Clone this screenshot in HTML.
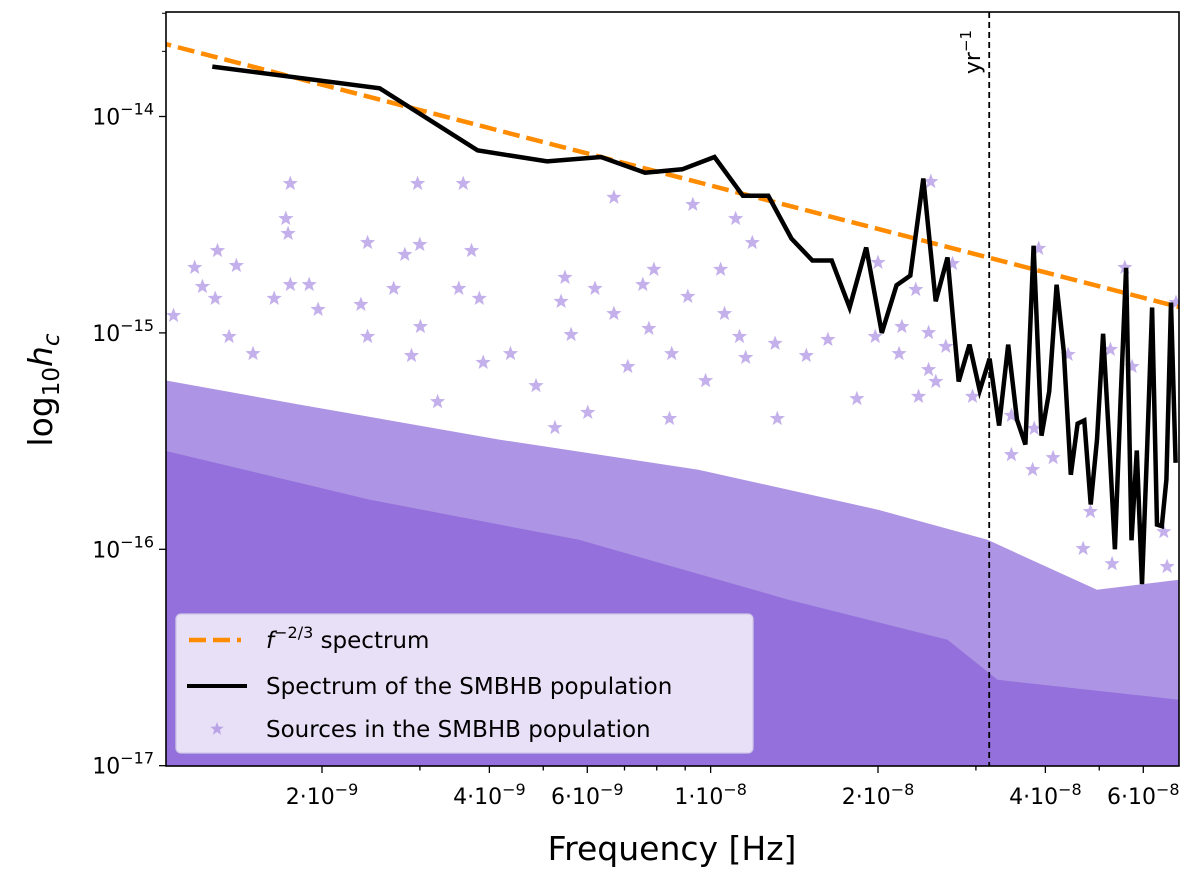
<!DOCTYPE html>
<html><head><meta charset="utf-8"><style>
html,body{margin:0;padding:0;background:#fff;}
svg{display:block;font-family:"DejaVu Sans","Liberation Sans",sans-serif;}
</style></head><body>
<svg id="chart" width="1200" height="879" viewBox="0 0 1200 879" xmlns="http://www.w3.org/2000/svg">
<defs><clipPath id="plotclip"><rect x="166" y="12" width="1013" height="754"/></clipPath></defs>
<rect x="0" y="0" width="1200" height="879" fill="#fff"/>
<g id="plot" clip-path="url(#plotclip)"></g>
<g id="axes"></g>
</svg>
<script>
// ---- data ----
const binIndex = [1,2,3,4,5,6,7,8,9,10,11,12,13,14,15,16,17,18,19,20,21,22,23,24,25,26,27,28,29,30,31,32,33,34,35,36,37,38,39,40,41,42,43,44,45,46,47,48,49,50,51,52,53,54];
const binWidthHz = 1.27e-9;
const spectrumH = [1.70e-14,1.35e-14,6.97e-15,6.2e-15,6.5e-15,5.5e-15,5.7e-15,6.5e-15,4.3e-15,4.3e-15,2.73e-15,2.16e-15,2.16e-15,1.31e-15,2.48e-15,1.0e-15,1.66e-15,1.84e-15,5.17e-15,1.40e-15,2.23e-15,5.96e-16,8.83e-16,5.41e-16,7.60e-16,3.73e-16,8.83e-16,3.97e-16,3.05e-16,2.53e-15,3.35e-16,5.36e-16,1.67e-15,8.2e-16,2.21e-16,3.81e-16,3.94e-16,1.61e-16,3.21e-16,9.9e-16,3.21e-16,1.0e-16,4.92e-16,2.0e-15,1.10e-16,2.86e-16,6.9e-17,2.89e-16,1.31e-15,1.30e-16,1.28e-16,2.10e-16,1.38e-15,2.51e-16];
const powerLawAmp = 4.8e-15;   // h at 1e-8 Hz
const powerLawRef = 1e-8;
const powerLawIdx = -2/3;
const yrFreq = 3.17e-8;
// scattered individual sources (log10 f, log10 h)
const srcLogF = [-8.756,-8.764,-8.760,-8.887,-8.928,-8.853,-8.914,-8.891,-8.966,-8.756,-8.722,-8.785,-8.706,-8.527,-8.445,-8.617,-8.523,-8.550,-8.430,-8.570,-8.453,-8.629,-8.416,-8.174,-8.032,-7.955,-7.925,-8.102,-8.262,-8.208,-8.122,-8.041,-8.269,-8.174,-7.975,-8.111,-7.982,-8.866,-8.823,-8.617,-8.538,-8.522,-8.409,-8.360,-8.251,-8.149,-8.070,-7.948,-7.884,-7.937,-7.828,-8.314,-8.009,-8.491,-8.221,-8.280,-8.074,-7.880,-7.604,-7.699,-7.631,-7.565,-7.656,-7.704,-7.789,-7.661,-7.608,-7.577,-7.608,-7.595,-7.529,-7.626,-7.737,-7.410,-7.255,-7.163,-7.242,-7.281,-7.357,-7.459,-7.418,-7.459,-7.384,-7.421,-7.317,-7.330,-7.278,-7.185,-7.179];
const srcLogH = [-14.310,-14.472,-14.541,-14.620,-14.698,-14.689,-14.786,-14.841,-14.920,-14.777,-14.777,-14.841,-14.892,-14.310,-14.310,-14.583,-14.592,-14.638,-14.620,-14.795,-14.795,-14.869,-14.841,-14.374,-14.407,-14.472,-14.583,-14.707,-14.744,-14.795,-14.777,-14.832,-14.855,-14.911,-14.911,-14.980,-14.707,-15.017,-15.096,-15.017,-15.105,-14.971,-15.137,-15.096,-15.008,-15.156,-15.096,-15.017,-15.049,-15.114,-15.105,-15.244,-15.221,-15.318,-15.368,-15.438,-15.396,-15.396,-14.301,-14.675,-14.800,-14.680,-14.971,-15.017,-15.031,-15.096,-14.999,-15.063,-15.170,-15.225,-15.294,-15.294,-15.304,-14.610,-14.698,-14.860,-15.156,-15.077,-15.100,-15.382,-15.442,-15.563,-15.577,-15.632,-15.826,-15.997,-16.067,-15.919,-16.080];
// envelopes of the densely populated source region (log10 f, log10 h)
const haloLogF = [-8.984,-8.738,-8.380,-8.022,-7.699,-7.502,-7.305,-7.158];
const haloLogH = [-15.216,-15.332,-15.493,-15.632,-15.817,-15.956,-16.187,-16.141];
const coreLogF = [-8.984,-8.613,-8.237,-7.860,-7.574,-7.484,-7.158];
const coreLogH = [-15.540,-15.771,-15.956,-16.233,-16.418,-16.603,-16.695];
const xTickVals = [2e-9,3e-9,4e-9,5e-9,6e-9,7e-9,8e-9,9e-9,1e-8,2e-8,3e-8,4e-8,5e-8,6e-8];
const xTickLabels = ["2·10","","4·10","","6·10","","","","1·10","2·10","","4·10","","6·10"];
const xTickExps = ["−9","","−9","","−9","","","","−8","−8","","−8","","−8"];
const yMajorExps = [-14,-15,-16,-17];

// ---- scales ----
const PX0=166, PX1=1179, PY0=12, PY1=766;
const XREF=322, XDEC=556, YREF=116.5, YDEC=216.4;
function xs(f){return XREF + XDEC*(Math.log10(f)-Math.log10(2e-9));}
function xsl(lf){return XREF + XDEC*(lf-Math.log10(2e-9));}
function ys(h){return YREF - YDEC*(Math.log10(h)+14);}
function ysl(lh){return YREF - YDEC*(lh+14);}

const NS="http://www.w3.org/2000/svg";
const plot=document.getElementById('plot');
const axes=document.getElementById('axes');
function mk(tag,attrs,parent){const e=document.createElementNS(NS,tag);for(const k in attrs)e.setAttribute(k,attrs[k]);parent.appendChild(e);return e;}

const PURPLE="#9370DB";
let pts=[];
for(let i=0;i<haloLogF.length;i++)pts.push(xsl(haloLogF[i]).toFixed(1)+","+ysl(haloLogH[i]).toFixed(1));
pts[0]=(PX0-5)+","+ysl(haloLogH[0]).toFixed(1);
pts.push(PX1+5+","+ysl(haloLogH[haloLogH.length-1]).toFixed(1));
pts.push(PX1+5+","+(PY1+5)); pts.push(PX0-5+","+(PY1+5));
let halo=mk('polygon',{points:pts.join(' '),fill:PURPLE,'fill-opacity':'0.75'},plot);


pts=[];
for(let i=0;i<coreLogF.length;i++)pts.push(xsl(coreLogF[i]).toFixed(1)+","+ysl(coreLogH[i]).toFixed(1));
pts[0]=(PX0-5)+","+ysl(coreLogH[0]).toFixed(1);
pts.push(PX1+5+","+ysl(coreLogH[coreLogH.length-1]).toFixed(1));
pts.push(PX1+5+","+(PY1+5)); pts.push(PX0-5+","+(PY1+5));
let core=mk('polygon',{points:pts.join(' '),fill:PURPLE},plot);



function starPath(cx,cy,r){let d="";for(let k=0;k<10;k++){const a=-Math.PI/2+k*Math.PI/5;const rr=k%2?r*0.42:r;d+=(k?"L":"M")+(cx+rr*Math.cos(a)).toFixed(1)+","+(cy+rr*Math.sin(a)).toFixed(1);}return d+"Z";}
for(let i=0;i<srcLogF.length;i++){
  const s=mk('path',{d:starPath(xsl(srcLogF[i]),ysl(srcLogH[i]),8),fill:PURPLE,'fill-opacity':'0.55'},plot);
  
  
}

const fA=1.0e-9, fB=7.2e-8;
let pl=mk('line',{x1:xs(fA),y1:ys(powerLawAmp*Math.pow(fA/powerLawRef,powerLawIdx)),x2:xs(fB),y2:ys(powerLawAmp*Math.pow(fB/powerLawRef,powerLawIdx)),stroke:'#ff8c00','stroke-width':4.5,'stroke-dasharray':'17,7'},plot);



let d="";
for(let i=0;i<binIndex.length;i++){d+=(i?"L":"M")+xs(binIndex[i]*binWidthHz).toFixed(1)+","+ys(spectrumH[i]).toFixed(1);}
let sp=mk('path',{d:d,fill:'none',stroke:'#000','stroke-width':4.5,'stroke-linejoin':'miter'},plot);



const yx=xs(yrFreq);
let yl=mk('line',{x1:yx,y1:PY0,x2:yx,y2:PY1,stroke:'#000','stroke-width':1.8,'stroke-dasharray':'6,4'},plot);


let yt=mk('text',{x:0,y:0,'font-size':22,transform:`translate(${yx-9},52) rotate(-90)`,'text-anchor':'middle'},axes);
yt.innerHTML='yr<tspan dy="-9" font-size="15">−1</tspan>';



let fr=mk('rect',{x:PX0,y:PY0,width:PX1-PX0,height:PY1-PY0,fill:'none',stroke:'#000','stroke-width':1.6},axes);



for(let i=0;i<xTickVals.length;i++){
  const x=xs(xTickVals[i]);
  const lab=xTickLabels[i]!=="";
  let t=mk('line',{x1:x,y1:PY1,x2:x,y2:PY1+(lab?7:4.5),stroke:'#000','stroke-width':1.3},axes);
  
  
  if(lab){
    let tx=mk('text',{x:x,y:PY1+38,'font-size':22,'text-anchor':'middle'},axes);
    tx.innerHTML=xTickLabels[i]+'<tspan dy="-9" font-size="16">'+xTickExps[i]+'</tspan>';
    
    
  }
}
for(let j=0;j<yMajorExps.length;j++){
  const e=yMajorExps[j];
  const y=ys(Math.pow(10,e));
  let t=mk('line',{x1:PX0-7,y1:y,x2:PX0,y2:y,stroke:'#000','stroke-width':1.3},axes);
  
  
  let tx=mk('text',{x:PX0-12,y:y+8,'font-size':22,'text-anchor':'end'},axes);
  tx.innerHTML='10<tspan dy="-10" font-size="16">−'+Math.abs(e)+'</tspan>';
  
  
  if(e>-14){ for(let m=2;m<=9;m++){
    const yy=ys(m*Math.pow(10,e));
    let mt=mk('line',{x1:PX0-4,y1:yy,x2:PX0,y2:yy,stroke:'#000','stroke-width':1},axes);
    
    
  }}
}
for(let m=2;m<=3;m++){const yy=ys(m*1e-14);if(yy>PY0){let mt=mk('line',{x1:PX0-4,y1:yy,x2:PX0,y2:yy,stroke:'#000','stroke-width':1},axes);

}}

let xt=mk('text',{x:672,y:860,'font-size':33,'text-anchor':'middle'},axes);
xt.textContent='Frequency [Hz]';


let ytt=mk('text',{x:0,y:0,'font-size':33,'text-anchor':'middle',transform:'translate(52,390) rotate(-90)'},axes);
ytt.innerHTML='log<tspan dy="7" font-size="23">10</tspan><tspan dy="-7" font-style="italic">h</tspan><tspan dy="7" font-size="23" font-style="italic">c</tspan>';



const lg=mk('g',{},axes);


mk('rect',{x:176,y:614,width:577,height:139,rx:5,fill:'#ece6f8','fill-opacity':'0.95',stroke:'#cfc6e6','stroke-width':1.3},lg);
let l1=mk('line',{x1:189,y1:640,x2:241,y2:640,stroke:'#ff8c00','stroke-width':4.5,'stroke-dasharray':'17,7'},lg);


let t1=mk('text',{x:266,y:648,'font-size':23},lg);
t1.innerHTML='<tspan font-style="italic">f</tspan><tspan dy="-10" font-size="16">−2/3</tspan><tspan dy="10"> spectrum</tspan>';


let l2=mk('line',{x1:187,y1:686,x2:247,y2:686,stroke:'#000','stroke-width':4},lg);


let t2=mk('text',{x:266,y:694,'font-size':23},lg);
t2.textContent='Spectrum of the SMBHB population';


let l3=mk('path',{d:starPath(217,729,7),fill:PURPLE,'fill-opacity':'0.55'},lg);


let t3=mk('text',{x:266,y:737,'font-size':23},lg);
t3.textContent='Sources in the SMBHB population';


</script>
</body></html>
